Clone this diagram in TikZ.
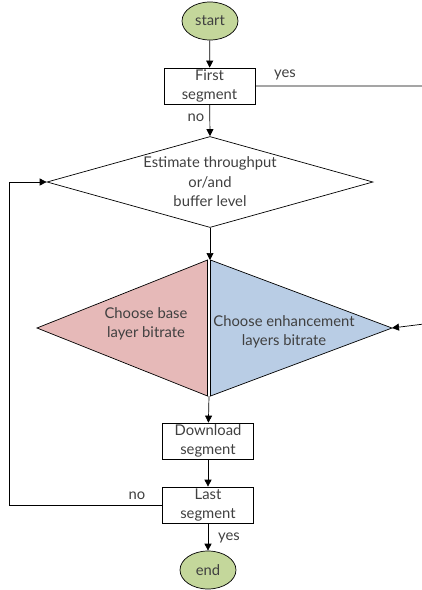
\documentclass[tikz,border=0pt]{standalone}
\usepackage{fontspec}
\setmainfont{Lato}
\usetikzlibrary{shapes.geometric,arrows.meta}

\definecolor{termgreen}{HTML}{C4D79B}
\definecolor{baselayer}{HTML}{E6B9B8}
\definecolor{enhlayer}{HTML}{B9CDE5}
\definecolor{txtgray}{HTML}{404040}

\tikzset{
	x=1pt, y=-1pt,
	every node/.style={font=\fontsize{14.8}{19.5}\selectfont, text=txtgray, align=center},
	term/.style={ellipse, draw, line width=0.7pt, fill=termgreen, minimum width=56, minimum height=38, inner sep=0},
	stepbox/.style={rectangle, draw, line width=0.7pt, minimum width=91, minimum height=36, inner sep=0},
	bigdia/.style={diamond, draw, line width=0.7pt, minimum width=326, minimum height=91, inner sep=0},
	line/.style={line width=0.7pt},
	arr/.style={line, -{Triangle[length=7pt,width=7pt]}}
}

\begin{document}
\begin{tikzpicture}
	%%%%% FRAME %%%%%
	\useasboundingbox (0,0) rectangle (422,590);
	\clip (0,0) rectangle (422,590);
	
	%%%%% NODES %%%%%
	\node[term] (start) at (210,21) {start};
	\node[stepbox] (first) at (209.5,86) {First\\segment};
	
	\node[bigdia] (est) at (210,182) {};
	\node (esttext) at (210,182) {Estimate throughput\\or/and\\buffer level};
	
	% split decision
	\coordinate (splitleft) at (37,328);
	\coordinate (splittop) at (210,260);
	\coordinate (splitbottom) at (209,396);
	\coordinate (splitright) at (392,328);
	\filldraw[line, fill=baselayer] (splitleft) -- (207.5,260) -- (207.5,396) -- cycle;
	\filldraw[line, fill=enhlayer] (210.5,260) -- (splitright) -- (210.5,396) -- cycle;
	\node (basetext) at (146,324) {Choose base\\layer bitrate};
	\node (enhtext) at (284,332) {Choose enhancement\\layers bitrate};
	
	\node[stepbox] (download) at (208,441) {Download\\segment};
	\node[stepbox] (last) at (208,505) {Last\\segment};
	\node[term] (end) at (208,570) {end};
	
	%%%%% LABELS %%%%%
	\node (yesfirst) at (285,75) {yes};
	\node (nofirst) at (196,118) {no};
	\node (nolast) at (137,496) {no};
	\node (yeslast) at (229,538) {yes};
	
	%%%%% CONNECTORS %%%%%
	\coordinate (loopx) at (9,0);
	\coordinate (rturn) at (440,322);
	
	\draw[arr] (start) -- (first);
	\draw[arr] (first) -- (est.north);
	\draw[arr] (est.south) -- (splittop);
	\draw[arr] (splitbottom) -- (download);
	\draw[arr] (download) -- (last);
	\draw[arr] (last) -- (end);
	\draw[arr] (last.west) -- (last.west -| loopx) |- (est.west);
	\draw[arr] (first.east) -| (rturn) -- (splitright);
	
\end{tikzpicture}
\end{document}
